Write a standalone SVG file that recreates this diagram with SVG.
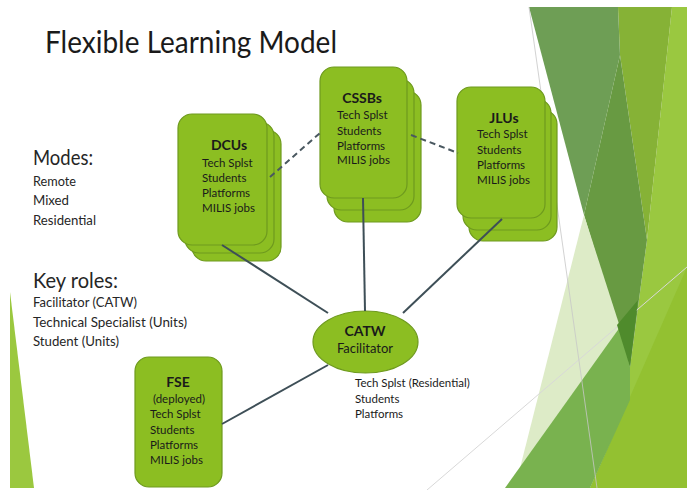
<svg xmlns="http://www.w3.org/2000/svg" width="692" height="490" viewBox="0 0 692 490">
  <style>
    .card { fill: #8CBE22; stroke: #6E9A1E; stroke-width: 1.2; }
    .t { font-family: Lato, "Open Sans", "Liberation Sans", sans-serif; fill: #1A1A1A; }
    .h { font-weight: bold; font-size: 14px; text-anchor: middle; }
    .s { font-size: 11.5px; }
    .side { font-family: Lato, "Open Sans", "Liberation Sans", sans-serif; fill: #262626; }
    .solid { stroke: #3E4F57; stroke-width: 2; fill: none; }
    .dash { stroke: #4A5860; stroke-width: 2; fill: none; stroke-dasharray: 6 4; }
  </style>
  <rect width="692" height="490" fill="#FFFFFF"/>
  <g id="background">
    <polygon points="10,292 10,488 34,488" fill="#9BC83F"/>
    <polygon points="647,240 672,7 687,7 687,488 590,488 630,400 630,367" fill="#9AC840"/>
    <polygon points="590,488 687,267 687,488" fill="#93C131"/>
    <polygon points="618,7 672,7 647,240 620,55" fill="#86B236"/>
    <polygon points="529,7 618,7 620,55 584,215" fill="#6E9E55"/>
    <polygon points="620,55 647,240 630,367 584,215" fill="#689A42"/>
    <polygon points="584,215 620,327 517,480" fill="#DDEBC7"/>
    <line x1="427" y1="490" x2="687" y2="267" stroke="#D8D8D8" stroke-width="1"/>
    <polygon points="505,488 620,327 630,367 630,400 590,488" fill="#79B24F"/>
    <polygon points="617,325 638,300 630,367" fill="#4F8B2C"/>
    <line x1="529" y1="7" x2="597" y2="488" stroke="#C8C8C8" stroke-width="1" opacity="0.8"/>
  </g>
  <text class="t" x="45" y="53" font-size="31" textLength="292" lengthAdjust="spacingAndGlyphs" fill="#111">Flexible Learning Model</text>
  <g id="modes">
    <text class="side" x="33" y="165" font-size="21" textLength="60" lengthAdjust="spacingAndGlyphs">Modes:</text>
    <text class="side" x="33" y="186" font-size="13.5" textLength="43" lengthAdjust="spacingAndGlyphs">Remote</text>
    <text class="side" x="33" y="205" font-size="13.5" textLength="36" lengthAdjust="spacingAndGlyphs">Mixed</text>
    <text class="side" x="33" y="225" font-size="13.5" textLength="63" lengthAdjust="spacingAndGlyphs">Residential</text>
  </g>
  <g id="key-roles">
    <text class="side" x="33" y="288" font-size="21" textLength="85" lengthAdjust="spacingAndGlyphs">Key roles:</text>
    <text class="side" x="33" y="307" font-size="13.5" textLength="104" lengthAdjust="spacingAndGlyphs">Facilitator (CATW)</text>
    <text class="side" x="33" y="327" font-size="13.5" textLength="154" lengthAdjust="spacingAndGlyphs">Technical Specialist (Units)</text>
    <text class="side" x="33" y="346" font-size="13.5" textLength="86" lengthAdjust="spacingAndGlyphs">Student (Units)</text>
  </g>
  <g id="DCUs">
    <rect class="card" x="192" y="130" width="89" height="131" rx="14"/>
    <rect class="card" x="185" y="122" width="89" height="131" rx="14"/>
    <rect class="card" x="178" y="114" width="89" height="131" rx="14"/>
    <text class="t h" x="229" y="150">DCUs</text>
    <text class="t s" x="202" y="167">Tech Splst</text>
    <text class="t s" x="202" y="182">Students</text>
    <text class="t s" x="202" y="197">Platforms</text>
    <text class="t s" x="202" y="212">MILIS jobs</text>
  </g>
  <g id="CSSBs">
    <rect class="card" x="334" y="91" width="87" height="131" rx="14"/>
    <rect class="card" x="327" y="79" width="87" height="131" rx="14"/>
    <rect class="card" x="320" y="67" width="87" height="131" rx="14"/>
    <text class="t h" x="362" y="103">CSSBs</text>
    <text class="t s" x="337" y="119">Tech Splst</text>
    <text class="t s" x="337" y="135">Students</text>
    <text class="t s" x="337" y="150">Platforms</text>
    <text class="t s" x="337" y="164">MILIS jobs</text>
  </g>
  <g id="JLUs">
    <rect class="card" x="469" y="110" width="88" height="131" rx="14"/>
    <rect class="card" x="463" y="99" width="88" height="131" rx="14"/>
    <rect class="card" x="457" y="87" width="88" height="131" rx="14"/>
    <text class="t h" x="504" y="123">JLUs</text>
    <text class="t s" x="477" y="138">Tech Splst</text>
    <text class="t s" x="477" y="154">Students</text>
    <text class="t s" x="477" y="169">Platforms</text>
    <text class="t s" x="477" y="184">MILIS jobs</text>
  </g>
  <g id="CATW">
    <ellipse class="card" cx="365.5" cy="342" rx="52.5" ry="31"/>
    <text class="t h" x="365" y="336">CATW</text>
    <text class="t" x="365" y="353" font-size="13" text-anchor="middle">Facilitator</text>
    <text class="t s" x="355" y="387">Tech Splst (Residential)</text>
    <text class="t s" x="355" y="403">Students</text>
    <text class="t s" x="355" y="418">Platforms</text>
  </g>
  <g id="FSE">
    <rect class="card" x="135" y="357" width="87" height="130" rx="14"/>
    <text class="t h" x="178" y="387">FSE</text>
    <text class="t s" x="179" y="403" text-anchor="middle">(deployed)</text>
    <text class="t s" x="150" y="418">Tech Splst</text>
    <text class="t s" x="150" y="434">Students</text>
    <text class="t s" x="150" y="449">Platforms</text>
    <text class="t s" x="150" y="464">MILIS jobs</text>
  </g>
  <g id="connectors">
    <path class="solid" d="M222,245 L328,313"/>
    <path class="solid" d="M363,198 L365,311"/>
    <path class="solid" d="M502,219 L403,313"/>
    <path class="solid" d="M222,424 L328,365"/>
    <path class="dash" d="M270,177 L320,133"/>
    <path class="dash" d="M411,135 L458,153"/>
  </g>
</svg>
